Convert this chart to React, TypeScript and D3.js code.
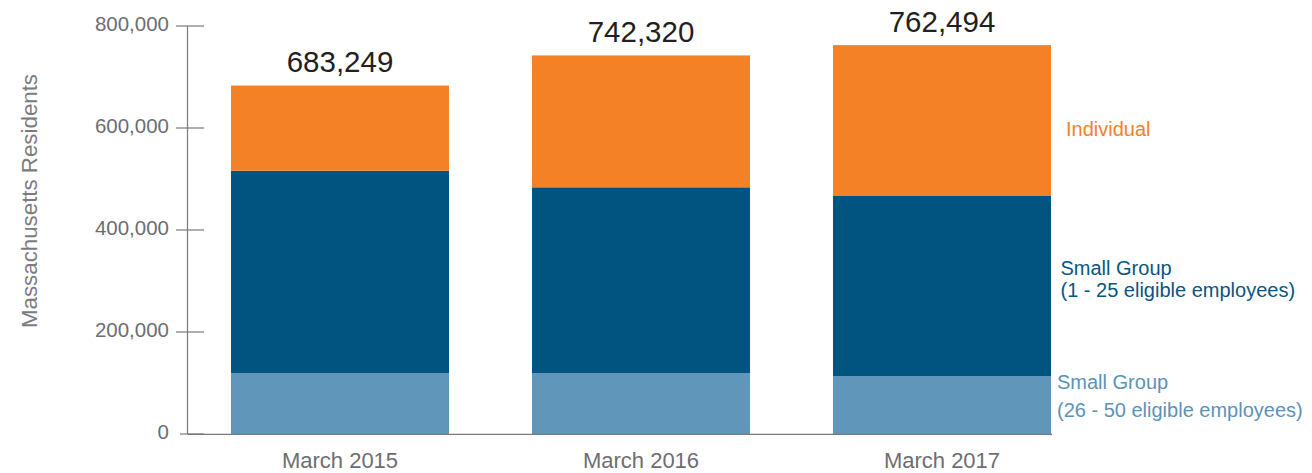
import React from 'react';
import * as d3 from 'd3';

const categories = ['March 2015', 'March 2016', 'March 2017'];
const smallGroup26to50 = [119000, 119000, 113700];
const smallGroup1to25 = [397300, 364700, 353000];
const individual = [166949, 258620, 295794];
const totals = [683249, 742320, 762494];
const yTicks = [0, 200000, 400000, 600000, 800000];

const seriesKeys = ['sg2650', 'sg125', 'ind'];
const colors = { sg2650: '#5f96b9', sg125: '#00547f', ind: '#f58126' };

const width = 1312;
const height = 473;
const font = "'Liberation Sans', Arial, Helvetica, sans-serif";

const App = () => {
  const rows = categories.map((c, i) => ({
    cat: c,
    sg2650: smallGroup26to50[i],
    sg125: smallGroup1to25[i],
    ind: individual[i],
  }));

  const x = d3.scaleBand().domain(categories).range([189.5, 1092.5])
    .paddingInner(0.2757).paddingOuter(0.1379);
  const y = d3.scaleLinear().domain([0, 800000]).range([434, 26]);

  const stacked = d3.stack().keys(seriesKeys)(rows);
  const fmt = d3.format(',');

  return (
    <svg width={width} height={height}
      style={{ position: 'absolute', left: 0, top: 0, background: '#fff' }}
      fontFamily={font}>
      {/* bars */}
      {stacked.map((layer) => (
        <g key={layer.key} fill={colors[layer.key]}>
          {layer.map((d, i) => (
            <rect key={i} x={x(d.data.cat)} width={x.bandwidth()}
              y={y(d[1])} height={y(d[0]) - y(d[1])} />
          ))}
        </g>
      ))}

      {/* y axis */}
      <line x1={187.5} x2={187.5} y1={y(800000)} y2={y(0)} stroke="#7a7a7a" strokeWidth={1.2} />
      <line x1={187.5} x2={1052} y1={y(0) + 0.3} y2={y(0) + 0.3} stroke="#7a7a7a" strokeWidth={1.2} />
      {yTicks.map((t) => (
        <g key={t}>
          <line x1={t === 0 ? 180 : 176} x2={204} y1={y(t)} y2={y(t)} stroke="#7a7a7a" strokeWidth={1.2} />
          <text x={169} y={y(t) + 5} textAnchor="end" fontSize={20.5} fill="#6d6e71">
            {fmt(t)}
          </text>
        </g>
      ))}
      <text transform="translate(37,201) rotate(-90)" textAnchor="middle" fontSize={22.3} fill="#7b7c7f">
        Massachusetts Residents
      </text>

      {/* x labels */}
      {categories.map((c) => (
        <text key={c} x={x(c) + x.bandwidth() / 2} y={468} textAnchor="middle" fontSize={22} fill="#6d6e71">
          {c}
        </text>
      ))}

      {/* totals */}
      {categories.map((c, i) => (
        <text key={c} x={x(c) + x.bandwidth() / 2} y={y(totals[i]) - 13.4} textAnchor="middle" fontSize={29.5} fill="#231f20">
          {fmt(totals[i])}
        </text>
      ))}

      {/* series labels */}
      <text x={1066} y={135.5} fontSize={20} fill={colors.ind}>Individual</text>
      <text x={1060.5} y={275} fontSize={20} fill="#0a5581">
        <tspan x={1060.5}>Small Group</tspan>
        <tspan x={1060.5} y={297}>(1 - 25 eligible employees)</tspan>
      </text>
      <text x={1057} y={388.5} fontSize={20} fill="#5b93b8">
        <tspan x={1057}>Small Group</tspan>
        <tspan x={1057} y={417}>(26 - 50 eligible employees)</tspan>
      </text>
    </svg>
  );
};

export default App;
